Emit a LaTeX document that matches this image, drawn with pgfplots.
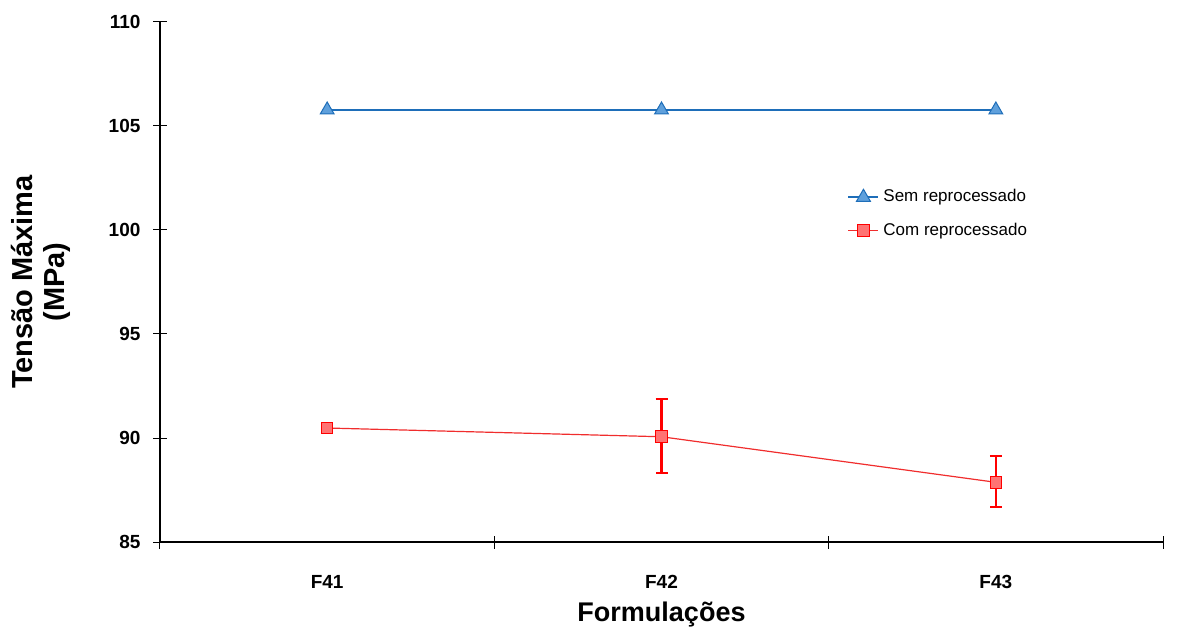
\documentclass[border=0pt]{standalone}
\usepackage{fontspec}
\setmainfont{Liberation Sans}
\usepackage{pgfplots}
\pgfplotsset{compat=1.18}
\definecolor{bline}{RGB}{30,110,185}
\definecolor{bfill}{RGB}{95,160,220}
\definecolor{rline}{RGB}{240,45,45}
\definecolor{rfill}{RGB}{255,115,115}
\begin{document}
\begin{tikzpicture}
\useasboundingbox (-80pt,-44.5pt) rectangle (510.5pt,271pt);
\begin{axis}[
  scale only axis, width=501.5pt, height=260pt,
  xmin=0.5, xmax=3.5, ymin=85, ymax=110,
  axis x line=bottom, axis y line=left,
  axis line style={-, line width=0.6pt, black},
  xtick={1,2,3}, xticklabels={F41,F42,F43},
  minor xtick={0.5,1.5,2.5,3.5},
  ytick={85,90,...,110},
  tick align=center, major tick length=6.5pt, minor tick length=6.5pt,
  every major x tick/.style={draw=none},
  every tick/.style={black, line width=0.5pt},
  /pgf/number format/assume math mode=true,
  tick label style={font=\bfseries\fontsize{9.5}{10}\selectfont},
  xticklabel style={yshift=-10pt},
  yticklabel style={xshift=-3pt},
  xlabel={Formulações},
  ylabel={Tensão Máxima\\(MPa)},
  xlabel style={font=\bfseries\fontsize{13.5}{15}\selectfont, at={(axis description cs:0.5,-0.1385)}, anchor=center},
  ylabel style={font=\bfseries\fontsize{14.5}{16}\selectfont, align=center, at={(axis description cs:-0.1186,0.5)}, anchor=center},
  legend style={draw=none, fill=none, at={(axis description cs:0.683,0.69)}, anchor=north west,
    font=\fontsize{8.5}{10}\selectfont, row sep=5pt, inner sep=1pt},
  legend cell align=left,
  legend image code/.code={\draw[mark repeat=2,mark phase=2] plot coordinates {(0pt,0pt) (7.5pt,0pt) (15pt,0pt)};},
  clip=false,
]
\addplot[bline, line width=1pt, mark=triangle*, mark size=4pt,
  mark options={fill=bfill, draw=bline, line width=0.5pt}]
  coordinates {(1,105.77) (2,105.77) (3,105.77)};
\addlegendentry{Sem reprocessado}
\addplot[rline, line width=0.6pt, mark=square*, mark size=2.9pt,
  mark options={fill=rfill, draw=red, line width=0.5pt},
  error bars/.cd, y dir=both, y explicit,
  error bar style={red, line width=1.2pt},
  error mark options={rotate=90, red, mark size=3pt, line width=1.2pt}]
  coordinates {
    (1,90.48) +=(0,0.12) -=(0,0.12)
    (2,90.06) +=(0,1.81) -=(0,1.73)
    (3,87.87) +=(0,1.26) -=(0,1.19)
  };
\addlegendentry{Com reprocessado}
\end{axis}
\end{tikzpicture}
\end{document}
